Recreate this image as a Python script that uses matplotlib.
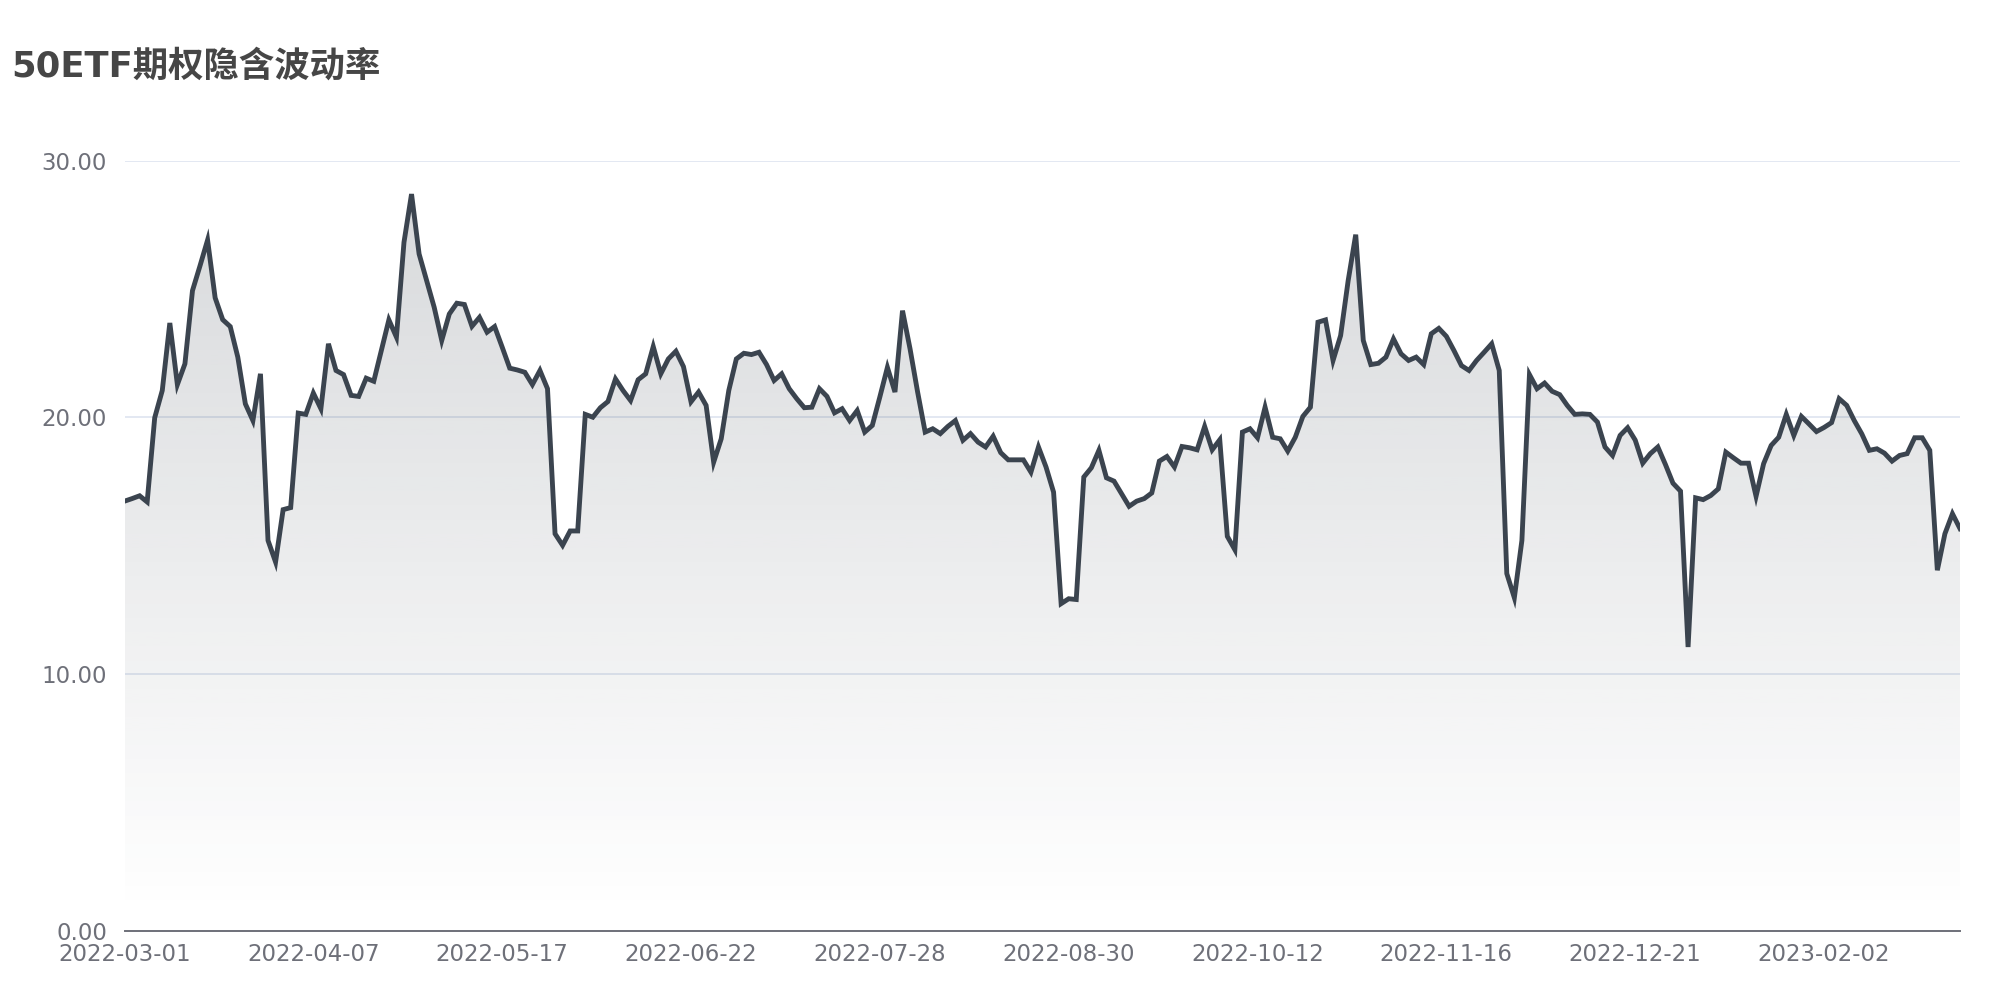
import numpy as np
import matplotlib
matplotlib.use('Agg')
import matplotlib.pyplot as plt
from matplotlib.ticker import FuncFormatter, FixedLocator, MultipleLocator
from matplotlib.colors import to_rgb

plt.rcParams['font.family'] = ['DejaVu Sans', 'Noto Sans CJK SC']

title = '50ETF期权隐含波动率'
tick_labels = ['2022-03-01', '2022-04-07', '2022-05-17', '2022-06-22', '2022-07-28',
               '2022-08-30', '2022-10-12', '2022-11-16', '2022-12-21', '2023-02-02']
tick_step = 25  # one label every 25 trading days

iv = [
    16.74, 16.84, 16.95, 16.71, 19.99, 21.05, 23.68, 21.28, 22.09, 24.94,
    25.91, 26.91, 24.66, 23.81, 23.54, 22.35, 20.53, 19.88, 21.70, 15.21,
    14.37, 16.41, 16.49, 20.17, 20.12, 20.95, 20.34, 22.87, 21.83, 21.67,
    20.86, 20.82, 21.53, 21.41, 22.61, 23.80, 23.13, 26.82, 28.70, 26.37,
    25.33, 24.29, 23.00, 24.03, 24.45, 24.40, 23.55, 23.90, 23.32, 23.54,
    22.74, 21.92, 21.85, 21.76, 21.28, 21.83, 21.12, 15.47, 15.02, 15.58,
    15.58, 20.12, 20.01, 20.38, 20.62, 21.50, 21.05, 20.66, 21.47, 21.70,
    22.76, 21.70, 22.28, 22.58, 21.98, 20.61, 20.99, 20.47, 18.26, 19.17,
    21.05, 22.28, 22.50, 22.45, 22.54, 22.06, 21.44, 21.70, 21.12, 20.73,
    20.38, 20.40, 21.12, 20.82, 20.18, 20.34, 19.88, 20.27, 19.43, 19.69,
    20.80, 21.95, 20.99, 24.16, 22.67, 20.99, 19.43, 19.56, 19.37, 19.65,
    19.88, 19.11, 19.37, 19.04, 18.85, 19.27, 18.63, 18.35, 18.35, 18.35,
    17.87, 18.85, 18.07, 17.09, 12.75, 12.94, 12.91, 17.68, 18.04, 18.72,
    17.65, 17.52, 17.03, 16.54, 16.74, 16.84, 17.06, 18.30, 18.48, 18.07,
    18.87, 18.82, 18.74, 19.65, 18.74, 19.13, 15.37, 14.85, 19.43, 19.56,
    19.21, 20.40, 19.23, 19.17, 18.69, 19.23, 20.04, 20.40, 23.71, 23.80,
    22.22, 23.19, 25.33, 27.12, 23.00, 22.06, 22.11, 22.35, 23.06, 22.48,
    22.22, 22.35, 22.06, 23.26, 23.47, 23.16, 22.61, 22.02, 21.83, 22.22,
    22.54, 22.87, 21.83, 13.92, 12.98, 15.21, 21.67, 21.12, 21.34, 21.02,
    20.89, 20.47, 20.12, 20.14, 20.12, 19.82, 18.85, 18.52, 19.30, 19.60,
    19.12, 18.22, 18.59, 18.85, 18.17, 17.44, 17.13, 11.06, 16.87, 16.80,
    16.96, 17.22, 18.65, 18.43, 18.22, 18.22, 16.93, 18.20, 18.91, 19.23,
    20.12, 19.30, 20.04, 19.75, 19.45, 19.61, 19.80, 20.73, 20.47, 19.88,
    19.36, 18.72, 18.78, 18.61, 18.30, 18.52, 18.59, 19.21, 19.21, 18.72,
    14.05, 15.47, 16.25, 15.67,
]

line_color = '#3b444f'
label_color = '#6e7079'
grid_color = '#e0e6f1'

fig = plt.figure(figsize=(20, 10), dpi=100)
ax = fig.add_axes([0.06225, 0.069, 0.98 - 0.06225, 0.8393 - 0.069])

x = np.arange(len(iv))
y = np.array(iv)
ymax = 30

ax.set_xlim(0, len(iv) - 1)
ax.set_ylim(0, ymax)

# grid
ax.yaxis.set_major_locator(MultipleLocator(10))
ax.grid(axis='y', color=grid_color, linewidth=1.3, zorder=0)
ax.set_axisbelow(True)

# gradient fill under the line
poly = ax.fill_between(x, y, 0, facecolor='none', edgecolor='none', zorder=1)
clip = poly.get_paths()[0]
rgb = to_rgb(line_color)
n = 256
grad = np.zeros((n, 1, 4))
grad[:, 0, 0] = rgb[0]
grad[:, 0, 1] = rgb[1]
grad[:, 0, 2] = rgb[2]
top_val = y.max()
vals = np.linspace(top_val, 0, n)
grad[:, 0, 3] = np.clip((vals - 0.6) / (top_val - 0.6), 0, 1) * 0.2
im = ax.imshow(grad, extent=[0, len(iv) - 1, 0, top_val], aspect='auto',
               origin='upper', zorder=1, interpolation='bilinear')
im.set_clip_path(clip, transform=ax.transData)

ax.plot(x, y, color=line_color, linewidth=3.5, solid_joinstyle='miter', zorder=3)

# axes styling
for s in ['top', 'right', 'left']:
    ax.spines[s].set_visible(False)
ax.spines['bottom'].set_color(label_color)
ax.spines['bottom'].set_linewidth(1.4)
ax.spines['bottom'].set_zorder(4)

ax.xaxis.set_major_locator(FixedLocator([i * tick_step for i in range(len(tick_labels))]))
ax.set_xticklabels(tick_labels)
ax.yaxis.set_major_formatter(FuncFormatter(lambda v, p: f'{v:.2f}'))
ax.tick_params(axis='x', length=0, pad=8.5, labelsize=16.5, labelcolor=label_color)
ax.tick_params(axis='y', length=0, pad=12.5, labelsize=16.5, labelcolor=label_color)

fig.text(0.0055, 1 - 0.0767, title, fontsize=25.5, fontweight='bold', color='#464646',
         ha='left', va='baseline')

fig.savefig('out.png', dpi=100, facecolor='white')
